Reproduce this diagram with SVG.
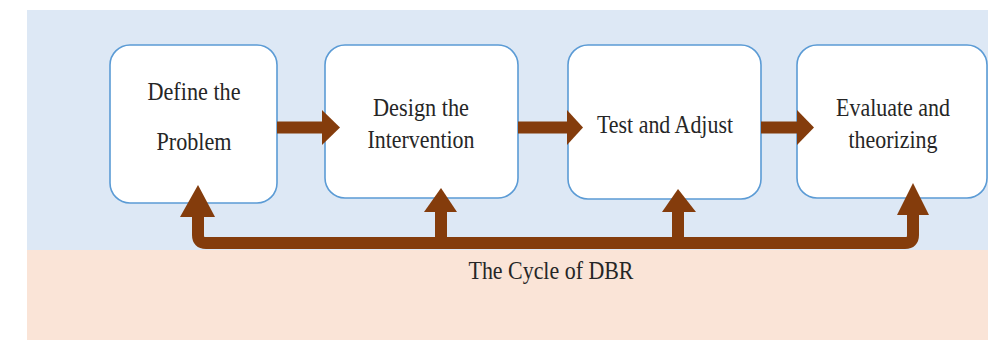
<svg xmlns="http://www.w3.org/2000/svg" width="988" height="340" viewBox="0 0 988 340">
<style>
.box{fill:#ffffff;stroke:#5b9bd5;stroke-width:1.6}
.t{font-family:"Liberation Serif","Times New Roman",serif;font-size:25px;fill:#262626;text-anchor:middle}
.shaft{fill:none;stroke:#843c0c;stroke-width:12}
.head{fill:#843c0c}
</style>
<rect x="0" y="0" width="988" height="340" fill="#ffffff"/>
<rect x="27" y="10" width="961" height="240" fill="#dde8f5"/>
<rect x="27" y="250" width="961" height="90" fill="#fae4d7"/>
<g id="define">
<rect class="box" x="110" y="45" width="167" height="158" rx="20"/>
<text class="t" x="194" y="100" textLength="93" lengthAdjust="spacingAndGlyphs">Define the</text>
<text class="t" x="194" y="150" textLength="75" lengthAdjust="spacingAndGlyphs">Problem</text>
</g>
<g id="design">
<rect class="box" x="325" y="45" width="193" height="153" rx="20"/>
<text class="t" x="421" y="116" textLength="96" lengthAdjust="spacingAndGlyphs">Design the</text>
<text class="t" x="421" y="148" textLength="107" lengthAdjust="spacingAndGlyphs">Intervention</text>
</g>
<g id="test">
<rect class="box" x="568" y="45" width="193" height="154" rx="20"/>
<text class="t" x="665" y="133" textLength="136" lengthAdjust="spacingAndGlyphs">Test and Adjust</text>
</g>
<g id="evaluate">
<rect class="box" x="797" y="45" width="190" height="153" rx="20"/>
<text class="t" x="893" y="116" textLength="114" lengthAdjust="spacingAndGlyphs">Evaluate and</text>
<text class="t" x="893" y="148" textLength="89" lengthAdjust="spacingAndGlyphs">theorizing</text>
</g>
<g id="label">
<text class="t" x="551" y="279" textLength="165" lengthAdjust="spacingAndGlyphs">The Cycle of DBR</text>
</g>
<g id="connectors">
<path class="shaft" d="M277 127.5 H323"/>
<polygon class="head" points="322,110 340,127.5 322,145"/>
<path class="shaft" d="M518 127.5 H568"/>
<polygon class="head" points="567,110 583,127.5 567,145"/>
<path class="shaft" d="M761 127.5 H798"/>
<polygon class="head" points="797,110 814,127.5 797,145"/>
<path class="shaft" d="M198 214 V235 Q198 243 206 243 H905 Q913 243 913 235 V212"/>
<polygon class="head" points="180,217 198,185 215,217"/>
<path class="shaft" d="M441 210 V249"/>
<polygon class="head" points="424,212 441,188 457,212"/>
<path class="shaft" d="M678 210 V249"/>
<polygon class="head" points="662,212 678,189 696,212"/>
<polygon class="head" points="897,215 913,183 929,215"/>
</g>
</svg>
